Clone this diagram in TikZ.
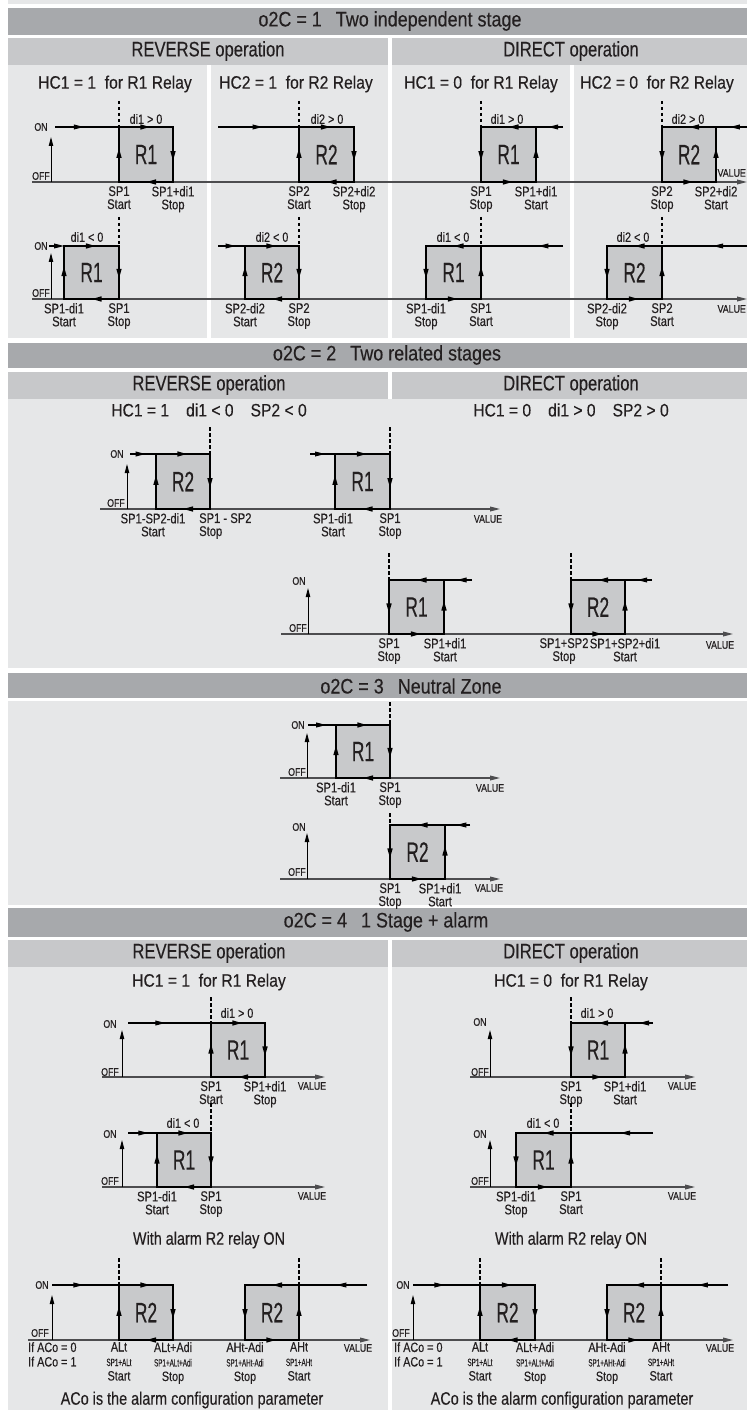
\documentclass[tikz,border=0pt]{standalone}
\usepackage{fontspec}
\setmainfont{Liberation Sans}[FakeStretch=0.87,FakeBold=0.3]
\newfontfamily\hdrfont{Liberation Sans}[FakeStretch=0.855,FakeBold=0.3]
\newfontfamily\subfont{Liberation Sans}[FakeStretch=0.79,FakeBold=0.3]
\newfontfamily\lblfont{Liberation Sans}[FakeStretch=0.8,FakeBold=0.3]
\newfontfamily\rfont{Liberation Sans}[FakeStretch=0.62,FakeBold=0.3]
\newfontfamily\narrowfont{Liberation Sans}[FakeStretch=0.6,FakeBold=0.2]
\usetikzlibrary{arrows.meta,decorations.markings}
\definecolor{hdrgray}{HTML}{A7A9AC}
\definecolor{subgray}{HTML}{C7C8CA}
\definecolor{panelgray}{HTML}{E6E7E8}
\definecolor{boxgray}{HTML}{C8C9CB}
\definecolor{axisgray}{HTML}{4D4D4F}
\definecolor{ink}{HTML}{231F20}
\tikzset{
 midarr/.style={postaction={decorate},decoration={markings,mark=at position #1 with {\arrow{Triangle[length=10pt,width=4.8pt]}}}},
 midarr/.default=0.6,
 boxline/.style={draw=black,line width=1.9pt},
 onwire/.style={draw=black,line width=1.1pt},
 axisln/.style={draw=axisgray,line width=1.1pt,-{Triangle[length=10pt,width=4.8pt]}},
 uparr/.style={draw=black,line width=0.9pt,-{Triangle[length=9pt,width=4.4pt]}},
 dashv/.style={draw=black,line width=1.1pt,dash pattern=on 3.5pt off 2.5pt},
 txt/.style={inner sep=0pt,text=ink},
 hdr/.style={txt,font=\hdrfont\fontsize{21}{23}\selectfont},
 sub/.style={txt,font=\subfont\fontsize{21}{23}\selectfont},
 hc/.style={txt,font=\fontsize{18}{20}\selectfont},
 note/.style={txt,font=\lblfont\fontsize{18}{20}\selectfont},
 rlab/.style={txt,font=\rfont\fontsize{28}{30}\selectfont},
 dil/.style={txt,font=\lblfont\fontsize{13.5}{14}\selectfont},
 spl/.style={txt,font=\lblfont\fontsize{14}{13}\selectfont,align=center,anchor=north},
 alab/.style={txt,font=\lblfont\fontsize{13.5}{14.5}\selectfont,align=center,anchor=north},
 onl/.style={txt,font=\lblfont\fontsize{11}{11}\selectfont},
 val/.style={txt,font=\lblfont\fontsize{11}{12}\selectfont},
}
\newcommand\nsmall[1]{{\narrowfont\fontsize{10.5}{14.5}\selectfont #1}}
% reverse box: left up, top right, right down, bottom left
\newcommand\RevBox[6]{%
 \draw[boxline,fill=boxgray] (#2,#4) rectangle (#3,#5);
 \draw[boxline,midarr=0.62] (#2,#5) -- (#2,#4);
 \draw[boxline,midarr=0.58] (#2,#4) -- (#3,#4);
 \draw[boxline,midarr=0.62] (#3,#4) -- (#3,#5);
 \draw[boxline,midarr=0.5] (#3,#5) -- (#2,#5);
 \node[rlab] (#1) at ({(#2+#3)/2},{(#4+#5)/2}) {#6};}
% direct box: left down, bottom right, right up, top left
\newcommand\DirBox[6]{%
 \draw[boxline,fill=boxgray] (#2,#4) rectangle (#3,#5);
 \draw[boxline,midarr=0.62] (#2,#4) -- (#2,#5);
 \draw[boxline,midarr=0.58] (#2,#5) -- (#3,#5);
 \draw[boxline,midarr=0.62] (#3,#5) -- (#3,#4);
 \draw[boxline,midarr=0.5] (#3,#4) -- (#2,#4);
 \node[rlab] (#1) at ({(#2+#3)/2},{(#4+#5)/2}) {#6};}
\begin{document}
\begin{tikzpicture}[x=1pt,y=-1pt]
\useasboundingbox (0,0) rectangle (747,1412);
\fill[white] (0,0) rectangle (747,1412);
% ---------- panels ----------
\fill[panelgray] (8,0) rectangle (747,4);
\fill[hdrgray] (8,8) rectangle (747,35);
\fill[subgray] (8,38) rectangle (388,65);
\fill[subgray] (392,38) rectangle (747,65);
\fill[panelgray] (8,65) rectangle (207,338);
\fill[panelgray] (211,65) rectangle (388,338);
\fill[panelgray] (392,65) rectangle (570,338);
\fill[panelgray] (574,65) rectangle (747,338);
\fill[hdrgray] (8,343) rectangle (747,368);
\fill[subgray] (8,372) rectangle (388,399);
\fill[subgray] (392,372) rectangle (747,399);
\fill[panelgray] (8,399) rectangle (747,668);
\fill[hdrgray] (8,673) rectangle (747,698);
\fill[panelgray] (8,701) rectangle (747,905);
\fill[hdrgray] (8,908) rectangle (747,937);
\fill[subgray] (8,940) rectangle (388,967);
\fill[subgray] (392,940) rectangle (747,967);
\fill[panelgray] (8,967) rectangle (388,1410);
\fill[panelgray] (392,967) rectangle (747,1410);
% ---------- headings ----------
\node[hdr] (t1) at (390,21) {o2C = 1\hspace{14pt}Two independent stage};
\node[sub] (rev1) at (208,51) {REVERSE operation};
\node[sub] (dir1) at (571,51) {DIRECT operation};
\node[hc] (hc11) at (115,84) {HC1 = 1~~for R1 Relay};
\node[hc] (hc12) at (296,84) {HC2 = 1~~for R2 Relay};
\node[hc] (hc13) at (481,84) {HC1 = 0~~for R1 Relay};
\node[hc] (hc14) at (657,84) {HC2 = 0~~for R2 Relay};
\node[hdr] (t2) at (387,355) {o2C = 2\hspace{14pt}Two related stages};
\node[sub] (rev2) at (209,385) {REVERSE operation};
\node[sub] (dir2) at (571,385) {DIRECT operation};
\node[hc] (hc21) at (209,410) {HC1 = 1\hspace{17pt}di1 < 0\hspace{17pt}SP2 < 0};
\node[hc] (hc22) at (571,410) {HC1 = 0\hspace{17pt}di1 > 0\hspace{17pt}SP2 > 0};
\node[hdr] (t3) at (411,686) {o2C = 3\hspace{14pt}Neutral Zone};
\node[hdr] (t4) at (386,922) {o2C = 4\hspace{14pt}1 Stage + alarm};
\node[sub] (rev4) at (209,953) {REVERSE operation};
\node[sub] (dir4) at (571,953) {DIRECT operation};
\node[hc] (hc41) at (209,982) {HC1 = 1~~for R1 Relay};
\node[hc] (hc42) at (571,982) {HC1 = 0~~for R1 Relay};
% =============== SECTION 1 ===============
\draw[axisln] (32,182) -- (747,182);
\draw[axisln] (32,299) -- (747,299);
% col 1 top
\node[onl] (on11) at (41,127) {ON};
\node[onl] (off11) at (41,176) {OFF};
\draw[uparr] (51,182) -- (51,137);
\draw[onwire,midarr=0.45] (55,127) -- (119,127);
\draw[dashv] (119,101) -- (119,127);
\RevBox{b11}{119}{173}{127}{182}{R1}
\node[dil] (d11) at (146,119) {di1 > 0};
\node[spl] (s11a) at (119,186) {SP1\\Start};
\node[spl] (s11b) at (173,186) {SP1+di1\\Stop};
% col 2 top
\draw[onwire,midarr=0.55] (218,127) -- (299,127);
\draw[dashv] (299,101) -- (299,127);
\RevBox{b12}{299}{354}{127}{182}{R2}
\node[dil] (d12) at (327,119) {di2 > 0};
\node[spl] (s12a) at (299,186) {SP2\\Start};
\node[spl] (s12b) at (354,186) {SP2+di2\\Stop};
% col 3 top
\draw[onwire,midarr=0.55] (563,127) -- (536,127);
\draw[dashv] (481,101) -- (481,127);
\DirBox{b13}{481}{536}{127}{182}{R1}
\node[dil] (d13) at (507,119) {di1 > 0};
\node[spl] (s13a) at (481,186) {SP1\\Stop};
\node[spl] (s13b) at (536,186) {SP1+di1\\Start};
% col 4 top
\draw[onwire,midarr=0.55] (747,127) -- (716,127);
\draw[dashv] (662,101) -- (662,127);
\DirBox{b14}{662}{716}{127}{182}{R2}
\node[dil] (d14) at (688,119) {di2 > 0};
\node[spl] (s14a) at (662,186) {SP2\\Stop};
\node[spl] (s14b) at (716,186) {SP2+di2\\Start};
\node[val,anchor=east] (v14) at (746,173) {VALUE};
% col 1 bottom
\node[onl] (on21) at (41,246) {ON};
\node[onl] (off21) at (41,293) {OFF};
\draw[uparr] (51,299) -- (51,253);
\draw[onwire,-{Triangle[length=10pt,width=4.8pt]}] (49,246) -- (64,246);
\draw[dashv] (119,217) -- (119,246);
\RevBox{b21}{64}{119}{246}{299}{R1}
\node[dil] (d21) at (87,237) {di1 < 0};
\node[spl] (s21a) at (64,303) {SP1-di1\\Start};
\node[spl] (s21b) at (119,303) {SP1\\Stop};
% col 2 bottom
\draw[onwire,midarr=0.65] (218,246) -- (245,246);
\draw[dashv] (299,217) -- (299,246);
\RevBox{b22}{245}{299}{246}{299}{R2}
\node[dil] (d22) at (272,237) {di2 < 0};
\node[spl] (s22a) at (245,303) {SP2-di2\\Start};
\node[spl] (s22b) at (299,303) {SP2\\Stop};
% col 3 bottom
\draw[onwire,midarr=0.3] (563,246) -- (481,246);
\draw[dashv] (481,217) -- (481,246);
\DirBox{b23}{426}{481}{246}{299}{R1}
\node[dil] (d23) at (453,237) {di1 < 0};
\node[spl] (s23a) at (426,303) {SP1-di1\\Stop};
\node[spl] (s23b) at (481,303) {SP1\\Start};
% col 4 bottom
\draw[onwire,midarr=0.4] (747,246) -- (662,246);
\draw[dashv] (662,217) -- (662,246);
\DirBox{b24}{607}{662}{246}{299}{R2}
\node[dil] (d24) at (633,237) {di2 < 0};
\node[spl] (s24a) at (607,303) {SP2-di2\\Stop};
\node[spl] (s24b) at (662,303) {SP2\\Start};
\node[val,anchor=east] (v24) at (746,309) {VALUE};
% =============== SECTION 2 ===============
% reverse
\draw[axisln] (100,509) -- (500,509);
\node[onl] (on31) at (117,454) {ON};
\node[onl] (off31) at (116,503) {OFF};
\draw[uparr] (127,509) -- (127,464);
\draw[onwire,midarr=0.6] (130,454) -- (156,454);
\draw[dashv] (210,427) -- (210,454);
\RevBox{b31}{156}{210}{454}{509}{R2}
\draw[onwire,midarr=0.6] (310,454) -- (335,454);
\draw[dashv] (390,427) -- (390,454);
\RevBox{b32}{335}{390}{454}{509}{R1}
\node[spl] (s31a) at (153,513) {SP1-SP2-di1\\Start};
\node[spl,align=left,anchor=north west] (s31b) at (199,513) {SP1 - SP2\\Stop};
\node[spl] (s32a) at (333,513) {SP1-di1\\Start};
\node[spl] (s32b) at (390,513) {SP1\\Stop};
\node[val] (v31) at (488,519) {VALUE};
% direct
\draw[axisln] (281,634) -- (733,634);
\node[onl] (on41) at (299,581) {ON};
\node[onl] (off41) at (298,628) {OFF};
\draw[uparr] (308,634) -- (308,588);
\draw[onwire,midarr=0.55] (472,580) -- (444,580);
\draw[dashv] (389,553) -- (389,580);
\DirBox{b41}{389}{444}{580}{634}{R1}
\draw[onwire,midarr=0.55] (652,580) -- (625,580);
\draw[dashv] (571,553) -- (571,580);
\DirBox{b42}{571}{625}{580}{634}{R2}
\node[spl] (s41a) at (389,638) {SP1\\Stop};
\node[spl] (s41b) at (445,638) {SP1+di1\\Start};
\node[spl] (s42a) at (564,638) {SP1+SP2\\Stop};
\node[spl] (s42b) at (625,638) {SP1+SP2+di1\\Start};
\node[val] (v41) at (720,645) {VALUE};
% =============== SECTION 3 ===============
\draw[axisln] (280,778) -- (500,778);
\node[onl] (on51) at (298,725) {ON};
\node[onl] (off51) at (297,772) {OFF};
\draw[uparr] (307,778) -- (307,733);
\draw[onwire,midarr=0.65] (308,725) -- (336,725);
\draw[dashv] (390,702) -- (390,725);
\RevBox{b51}{336}{390}{725}{778}{R1}
\node[spl] (s51a) at (336,782) {SP1-di1\\Start};
\node[spl] (s51b) at (390,782) {SP1\\Stop};
\node[val] (v51) at (490,788) {VALUE};
\draw[dashv] (390,813) -- (390,825);
\draw[axisln] (280,879) -- (500,879);
\node[onl] (on52) at (299,827) {ON};
\node[onl] (off52) at (297,872) {OFF};
\draw[uparr] (307,879) -- (307,833);
\draw[onwire,midarr=0.55] (470,825) -- (445,825);
\DirBox{b52}{390}{445}{825}{879}{R2}
\node[spl] (s52a) at (390,883) {SP1\\Stop};
\node[spl] (s52b) at (440,883) {SP1+di1\\Start};
\node[val] (v52) at (489,888) {VALUE};
% =============== SECTION 4 left ===============
\draw[axisln] (102,1077) -- (325,1077);
\node[onl] (on61) at (110,1024) {ON};
\node[onl] (off61) at (110,1072) {OFF};
\draw[uparr] (122,1077) -- (122,1030);
\draw[onwire,midarr=0.45] (128,1023) -- (211,1023);
\draw[dashv] (211,997) -- (211,1023);
\RevBox{b61}{211}{265}{1023}{1077}{R1}
\node[dil] (d61) at (237,1013) {di1 > 0};
\node[spl] (s61a) at (211,1081) {SP1\\Start};
\node[spl] (s61b) at (265,1081) {SP1+di1\\Stop};
\node[val] (v61) at (312,1086) {VALUE};
\draw[dashv] (211,1103) -- (211,1133);
\draw[axisln] (102,1187) -- (325,1187);
\node[onl] (on62) at (110,1134) {ON};
\node[onl] (off62) at (110,1181) {OFF};
\draw[uparr] (122,1187) -- (122,1140);
\draw[onwire,midarr=0.7] (128,1133) -- (157,1133);
\RevBox{b62}{157}{211}{1133}{1187}{R1}
\node[dil] (d62) at (183,1123) {di1 < 0};
\node[spl] (s62a) at (157,1191) {SP1-di1\\Start};
\node[spl] (s62b) at (211,1191) {SP1\\Stop};
\node[val] (v62) at (312,1196) {VALUE};
\node[note] (w61) at (209,1240) {With alarm R2 relay ON};
\draw[axisln] (28,1340) -- (370,1340);
\node[onl] (on63) at (42,1285) {ON};
\node[onl] (off63) at (40,1333) {OFF};
\draw[uparr] (52,1340) -- (52,1295);
\draw[onwire,midarr=0.47] (52,1285) -- (119,1285);
\draw[dashv] (119,1258) -- (119,1285);
\RevBox{b63}{119}{173}{1285}{1340}{R2}
\draw[onwire,midarr=0.45] (367,1285) -- (299,1285);
\draw[dashv] (299,1258) -- (299,1285);
\DirBox{b64}{245}{299}{1285}{1340}{R2}
\node[alab,align=left,anchor=north west] (if6) at (28,1342) {If ACo = 0\\If ACo = 1};
\node[alab] (a61) at (119,1342) {ALt\\\nsmall{SP1+ALt}\\Start};
\node[alab] (a62) at (173,1342) {ALt+Adi\\\nsmall{SP1+ALt+Adi}\\Stop};
\node[alab] (a63) at (245,1342) {AHt-Adi\\\nsmall{SP1+AHt-Adi}\\Stop};
\node[alab] (a64) at (299,1342) {AHt\\\nsmall{SP1+AHt}\\Start};
\node[val] (v63) at (358,1348) {VALUE};
\node[note] (c61) at (192,1400) {ACo is the alarm configuration parameter};
% =============== SECTION 4 right ===============
\draw[axisln] (470,1077) -- (695,1077);
\node[onl] (on71) at (480,1022) {ON};
\node[onl] (off71) at (480,1072) {OFF};
\draw[uparr] (490,1077) -- (490,1030);
\draw[onwire,midarr=0.5] (653,1023) -- (625,1023);
\draw[dashv] (571,997) -- (571,1023);
\DirBox{b71}{571}{625}{1023}{1077}{R1}
\node[dil] (d71) at (597,1013) {di1 > 0};
\node[spl] (s71a) at (571,1081) {SP1\\Stop};
\node[spl] (s71b) at (625,1081) {SP1+di1\\Start};
\node[val] (v71) at (682,1086) {VALUE};
\draw[dashv] (571,1103) -- (571,1133);
\draw[axisln] (470,1187) -- (695,1187);
\node[onl] (on72) at (480,1134) {ON};
\node[onl] (off72) at (480,1181) {OFF};
\draw[uparr] (490,1187) -- (490,1140);
\draw[onwire,midarr=0.4] (653,1133) -- (571,1133);
\DirBox{b72}{516}{571}{1133}{1187}{R1}
\node[dil] (d72) at (543,1123) {di1 < 0};
\node[spl] (s72a) at (516,1191) {SP1-di1\\Stop};
\node[spl] (s72b) at (571,1191) {SP1\\Start};
\node[val] (v72) at (682,1196) {VALUE};
\node[note] (w71) at (571,1240) {With alarm R2 relay ON};
\draw[axisln] (392,1340) -- (733,1340);
\node[onl] (on73) at (403,1285) {ON};
\node[onl] (off73) at (401,1333) {OFF};
\draw[uparr] (413,1340) -- (413,1295);
\draw[onwire,midarr=0.47] (413,1285) -- (480,1285);
\draw[dashv] (480,1258) -- (480,1285);
\RevBox{b73}{480}{535}{1285}{1340}{R2}
\draw[onwire,midarr=0.45] (728,1285) -- (661,1285);
\draw[dashv] (661,1258) -- (661,1285);
\DirBox{b74}{607}{661}{1285}{1340}{R2}
\node[alab,align=left,anchor=north west] (if7) at (394,1342) {If ACo = 0\\If ACo = 1};
\node[alab] (a71) at (480,1342) {ALt\\\nsmall{SP1+ALt}\\Start};
\node[alab] (a72) at (535,1342) {ALt+Adi\\\nsmall{SP1+ALt+Adi}\\Stop};
\node[alab] (a73) at (607,1342) {AHt-Adi\\\nsmall{SP1+AHt-Adi}\\Stop};
\node[alab] (a74) at (661,1342) {AHt\\\nsmall{SP1+AHt}\\Start};
\node[val] (v73) at (720,1348) {VALUE};
\node[note] (c71) at (562,1400) {ACo is the alarm configuration parameter};
\end{tikzpicture}
\end{document}
